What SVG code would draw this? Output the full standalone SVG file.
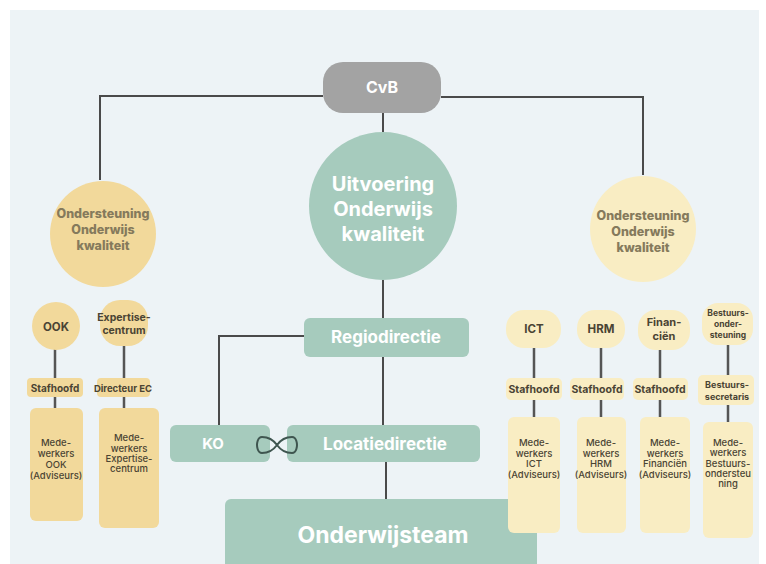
<svg xmlns="http://www.w3.org/2000/svg" width="766" height="564" viewBox="0 0 766 564">
<style>
.bg{fill:#edf3f6}
.ln{stroke:#4a4a4a;stroke-width:2;fill:none}
.ln2{stroke:#555;stroke-width:2.5;fill:none}
.grn{fill:#a6cbbd}
.gold{fill:#f2d99b}
.cream{fill:#f9edc3}
.t{font-family:Inter,"Open Sans","Liberation Sans",sans-serif;text-anchor:middle;dominant-baseline:central}
.w{fill:#ffffff;font-weight:700}
.d{fill:#4a4434;font-weight:700}
.m{fill:#4a4434;font-weight:500}
.mut{fill:#857a5c;font-weight:800}
</style>
<rect x="0" y="0" width="766" height="564" fill="#ffffff"/>
<rect class="bg" x="10" y="10" width="749" height="560"/>

<g id="connectors">
  <path class="ln" d="M323,96 H100 V180"/>
  <path class="ln" d="M441,97 H643 V175"/>
  <path class="ln" d="M383,112 V132"/>
  <path class="ln" d="M383,280 V319"/>
  <path class="ln" d="M383,357 V426"/>
  <path class="ln" d="M386,461 V500"/>
  <path class="ln" d="M304,336 H219 V426"/>
  <path class="ln2" d="M55,348 V378 M55,397 V408"/>
  <path class="ln2" d="M124,345 V378 M124,397 V408"/>
  <path class="ln2" d="M534,348 V378 M534,400 V417"/>
  <path class="ln2" d="M601,348 V378 M601,400 V417"/>
  <path class="ln2" d="M660,350 V378 M660,400 V417"/>
  <path class="ln2" d="M728,345 V375 M728,405 V422"/>
</g>

<g id="cvb">
  <rect x="323" y="62" width="118" height="51" rx="20" fill="#a3a3a3"/>
  <text class="t w" x="382" y="87" font-size="16">CvB</text>
</g>

<g id="uitvoering">
  <circle class="grn" cx="383" cy="206" r="74"/>
  <text class="t w" x="383" y="184" font-size="20">Uitvoering</text>
  <text class="t w" x="383" y="209" font-size="20">Onderwijs</text>
  <text class="t w" x="383" y="234" font-size="20">kwaliteit</text>
</g>

<g id="ondersteuning-links">
  <circle class="gold" cx="103" cy="234" r="53"/>
  <text class="t mut" x="103" y="213" font-size="12.5">Ondersteuning</text>
  <text class="t mut" x="103" y="229" font-size="12.5">Onderwijs</text>
  <text class="t mut" x="103" y="245" font-size="12.5">kwaliteit</text>
</g>

<g id="ondersteuning-rechts">
  <circle class="cream" cx="643" cy="229" r="53"/>
  <text class="t mut" x="643" y="215" font-size="12.5">Ondersteuning</text>
  <text class="t mut" x="643" y="231" font-size="12.5">Onderwijs</text>
  <text class="t mut" x="643" y="247" font-size="12.5">kwaliteit</text>
</g>

<g id="regiodirectie">
  <rect class="grn" x="304" y="318" width="165" height="39" rx="6"/>
  <text class="t w" x="386" y="337" font-size="17">Regiodirectie</text>
</g>

<g id="ko">
  <rect class="grn" x="170" y="425" width="100" height="37" rx="6"/>
  <text class="t w" x="213" y="443" font-size="15">KO</text>
</g>

<g id="locatiedirectie">
  <rect class="grn" x="287" y="425" width="193" height="37" rx="6"/>
  <text class="t w" x="385" y="444" font-size="17">Locatiedirectie</text>
</g>

<g id="infinity">
  <path d="M277,445 C272,438 266,437 262,437 C257,437 257,445 257,445 C257,445 257,453 262,453 C266,453 272,452 277,445 C282,438 288,437 292,437 C297,437 297,445 297,445 C297,445 297,453 292,453 C288,453 282,452 277,445 Z" fill="none" stroke="#3f5650" stroke-width="2"/>
</g>

<g id="onderwijsteam">
  <rect class="grn" x="225" y="499" width="312" height="75" rx="6"/>
  <text class="t w" x="383" y="535" font-size="23">Onderwijsteam</text>
</g>

<g id="ook">
  <circle class="gold" cx="56" cy="326" r="24"/>
  <text class="t d" x="56" y="327" font-size="11.5">OOK</text>
</g>
<g id="expertisecentrum">
  <rect class="gold" x="100" y="300" width="48" height="46" rx="20"/>
  <text class="t d" x="124" y="317" font-size="10.5">Expertise-</text>
  <text class="t d" x="124" y="330" font-size="10.5">centrum</text>
</g>
<g id="stafhoofd-ook">
  <rect class="gold" x="27" y="378" width="56" height="19" rx="4"/>
  <text class="t d" x="55" y="388" font-size="10">Stafhoofd</text>
</g>
<g id="directeur-ec">
  <rect class="gold" x="97" y="378" width="53" height="19" rx="4"/>
  <text class="t d" x="123" y="388" font-size="9.5">Directeur EC</text>
</g>
<g id="medewerkers-ook">
  <rect class="gold" x="30" y="408" width="53" height="113" rx="6"/>
  <text class="t m" x="56" y="442" font-size="9.5">Mede-</text>
  <text class="t m" x="56" y="453" font-size="9.5">werkers</text>
  <text class="t m" x="56" y="464" font-size="9.5">OOK</text>
  <text class="t m" x="56" y="475" font-size="9.5">(Adviseurs)</text>
</g>
<g id="medewerkers-ec">
  <rect class="gold" x="99" y="408" width="60" height="120" rx="6"/>
  <text class="t m" x="129" y="437" font-size="9.5">Mede-</text>
  <text class="t m" x="129" y="448" font-size="9.5">werkers</text>
  <text class="t m" x="129" y="458" font-size="9.5">Expertise-</text>
  <text class="t m" x="129" y="468" font-size="9.5">centrum</text>
</g>

<g id="ict">
  <rect class="cream" x="506" y="310" width="55" height="38" rx="18"/>
  <text class="t d" x="534" y="329" font-size="11.5">ICT</text>
</g>
<g id="hrm">
  <rect class="cream" x="577" y="310" width="48" height="38" rx="18"/>
  <text class="t d" x="601" y="329" font-size="11.5">HRM</text>
</g>
<g id="financien">
  <rect class="cream" x="638" y="310" width="52" height="40" rx="18"/>
  <text class="t d" x="664" y="322" font-size="11">Finan-</text>
  <text class="t d" x="664" y="336" font-size="11">ciën</text>
</g>
<g id="bestuursondersteuning">
  <rect class="cream" x="702" y="303" width="51" height="42" rx="16"/>
  <text class="t d" x="728" y="313" font-size="8.5">Bestuurs-</text>
  <text class="t d" x="728" y="324" font-size="8.5">onder-</text>
  <text class="t d" x="728" y="335" font-size="8.5">steuning</text>
</g>
<g id="stafhoofd-ict">
  <rect class="cream" x="506" y="378" width="56" height="22" rx="5"/>
  <text class="t d" x="534" y="389" font-size="10.5">Stafhoofd</text>
</g>
<g id="stafhoofd-hrm">
  <rect class="cream" x="570" y="378" width="54" height="22" rx="5"/>
  <text class="t d" x="597" y="389" font-size="10.5">Stafhoofd</text>
</g>
<g id="stafhoofd-fin">
  <rect class="cream" x="633" y="378" width="55" height="22" rx="5"/>
  <text class="t d" x="660" y="389" font-size="10.5">Stafhoofd</text>
</g>
<g id="bestuurssecretaris">
  <rect class="cream" x="698" y="375" width="56" height="30" rx="5"/>
  <text class="t d" x="727" y="384" font-size="9">Bestuurs-</text>
  <text class="t d" x="727" y="396" font-size="9">secretaris</text>
</g>
<g id="medewerkers-ict">
  <rect class="cream" x="508" y="417" width="52" height="116" rx="6"/>
  <text class="t m" x="534" y="442" font-size="9.5">Mede-</text>
  <text class="t m" x="534" y="453" font-size="9.5">werkers</text>
  <text class="t m" x="534" y="463" font-size="9.5">ICT</text>
  <text class="t m" x="534" y="474" font-size="9.5">(Adviseurs)</text>
</g>
<g id="medewerkers-hrm">
  <rect class="cream" x="577" y="417" width="49" height="116" rx="6"/>
  <text class="t m" x="601" y="442" font-size="9.5">Mede-</text>
  <text class="t m" x="601" y="453" font-size="9.5">werkers</text>
  <text class="t m" x="601" y="463" font-size="9.5">HRM</text>
  <text class="t m" x="601" y="474" font-size="9.5">(Adviseurs)</text>
</g>
<g id="medewerkers-fin">
  <rect class="cream" x="640" y="417" width="50" height="116" rx="6"/>
  <text class="t m" x="665" y="442" font-size="9.5">Mede-</text>
  <text class="t m" x="665" y="453" font-size="9.5">werkers</text>
  <text class="t m" x="665" y="463" font-size="9.5">Financiën</text>
  <text class="t m" x="665" y="474" font-size="9.5">(Adviseurs)</text>
</g>
<g id="medewerkers-bestuur">
  <rect class="cream" x="703" y="422" width="50" height="116" rx="6"/>
  <text class="t m" x="728" y="442" font-size="9.5">Mede-</text>
  <text class="t m" x="728" y="452" font-size="9.5">werkers</text>
  <text class="t m" x="728" y="463" font-size="9.5">Bestuurs-</text>
  <text class="t m" x="728" y="473" font-size="9.5">ondersteu</text>
  <text class="t m" x="728" y="483" font-size="9.5">ning</text>
</g>
</svg>
